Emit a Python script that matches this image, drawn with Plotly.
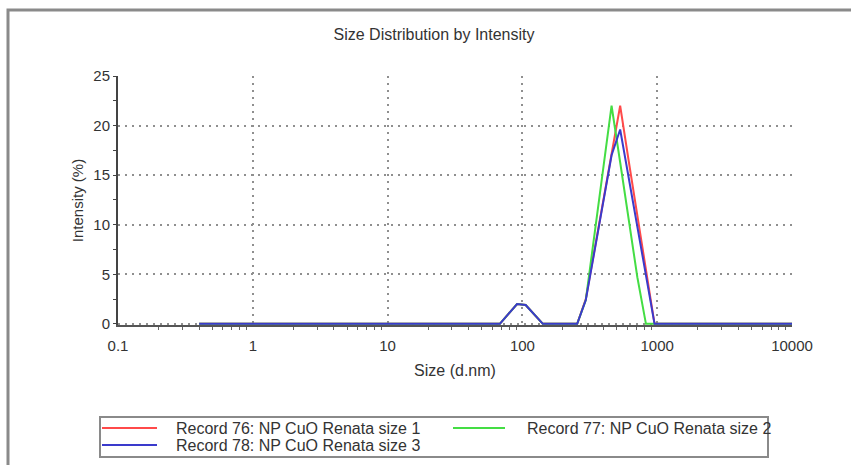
import plotly.graph_objects as go

# Malvern size classes (d.nm)
sizes = [0.4, 0.4632, 0.5365, 0.6213, 0.7195, 0.8332, 0.9649, 1.117, 1.294, 1.499,
         1.736, 2.010, 2.328, 2.696, 3.122, 3.615, 4.187, 4.849, 5.615, 6.503,
         7.531, 8.721, 10.10, 11.70, 13.54, 15.69, 18.17, 21.04, 24.36, 28.21,
         32.67, 37.84, 43.82, 50.75, 58.77, 68.06, 78.82, 91.28, 105.7, 122.4,
         141.8, 164.2, 190.1, 220.2, 255.0, 295.3, 342.0, 396.1, 458.7, 531.2,
         615.1, 712.4, 825.0, 955.4, 1106, 1281, 1484, 1718, 1990, 2305,
         2669, 3091, 3580, 4145, 4801, 5560, 6439, 7456, 8635, 10000]

rec76 = [0, 0, 0, 0, 0, 0, 0, 0, 0, 0,
         0, 0, 0, 0, 0, 0, 0, 0, 0, 0,
         0, 0, 0, 0, 0, 0, 0, 0, 0, 0,
         0, 0, 0, 0, 0, 0, 1.0, 2.0, 1.9, 0.9,
         0, 0, 0, 0, 0, 2.5, 7.3, 12.2, 17.1, 22.0,
         16.4, 10.8, 5.1, 0, 0, 0, 0, 0, 0, 0,
         0, 0, 0, 0, 0, 0, 0, 0, 0, 0]

rec77 = [0, 0, 0, 0, 0, 0, 0, 0, 0, 0,
         0, 0, 0, 0, 0, 0, 0, 0, 0, 0,
         0, 0, 0, 0, 0, 0, 0, 0, 0, 0,
         0, 0, 0, 0, 0, 0, 1.0, 2.0, 1.9, 0.9,
         0, 0, 0, 0, 0, 2.4, 8.8, 15.3, 22.0, 16.3,
         10.5, 4.7, 0, 0, 0, 0, 0, 0, 0, 0,
         0, 0, 0, 0, 0, 0, 0, 0, 0, 0]

rec78 = [0, 0, 0, 0, 0, 0, 0, 0, 0, 0,
         0, 0, 0, 0, 0, 0, 0, 0, 0, 0,
         0, 0, 0, 0, 0, 0, 0, 0, 0, 0,
         0, 0, 0, 0, 0, 0, 1.0, 2.0, 1.9, 0.9,
         0, 0, 0, 0, 0, 2.4, 7.2, 12.1, 17.0, 19.6,
         14.6, 9.6, 4.7, 0, 0, 0, 0, 0, 0, 0,
         0, 0, 0, 0, 0, 0, 0, 0, 0, 0]

series_names = ["Record 76: NP CuO Renata size 1",
                "Record 77: NP CuO Renata size 2",
                "Record 78: NP CuO Renata size 3"]
series_colors = ["#ff4a4a", "#44dd44", "#3a3acc"]

x_tickvals = [0.1, 1, 10, 100, 1000, 10000]
x_ticktext = ["0.1", "1", "10", "100", "1000", "10000"]
x_minor = [m * 10.0 ** e for e in range(-1, 4) for m in range(2, 10)]
y_tickvals = [0, 5, 10, 15, 20, 25]

FONT = "Liberation Sans, Arial, sans-serif"
W, H = 851, 465
L, R, T, B = 118, 59, 76, 140
PW, PH = W - L - R, H - T - B


def px(xp):
    return (xp - L) / PW


def py(yp):
    return (H - B - yp) / PH


fig = go.Figure()
for name, vals, col in zip(series_names, [rec76, rec77, rec78], series_colors):
    fig.add_trace(go.Scatter(x=sizes, y=vals, mode="lines", name=name,
                             line=dict(color=col, width=2), showlegend=False))

shapes = []
annotations = []
# outer frame
shapes.append(dict(type="rect", xref="paper", yref="paper",
                   x0=px(8), x1=px(960), y0=py(560), y1=py(10),
                   line=dict(color="#8a8a8a", width=3), layer="below"))
# legend box
shapes.append(dict(type="rect", xref="paper", yref="paper",
                   x0=px(100), x1=px(768), y0=py(457), y1=py(417),
                   line=dict(color="#8a8a8a", width=2)))
legend_items = [(102, 157, 428, 174), (453, 505, 428, 525), (102, 157, 445, 174)]
for (lx0, lx1, ly, tx), name, col in zip(legend_items, series_names, series_colors):
    shapes.append(dict(type="line", xref="paper", yref="paper",
                       x0=px(lx0), x1=px(lx1), y0=py(ly), y1=py(ly),
                       line=dict(color=col, width=2)))
    annotations.append(dict(text=name, xref="paper", yref="paper",
                            x=px(tx), y=py(ly), xanchor="left", yanchor="middle",
                            showarrow=False, font=dict(family=FONT, size=16, color="#333")))

fig.update_layout(
    width=W, height=H, autosize=False,
    margin=dict(l=L, r=R, t=T, b=B, autoexpand=False),
    paper_bgcolor="white", plot_bgcolor="white",
    title=dict(text="Size Distribution by Intensity", x=434 / W, xref="container",
               xanchor="center", y=1 - 34 / H, yref="container", yanchor="middle",
               font=dict(family=FONT, size=16, color="#333")),
    shapes=shapes, annotations=annotations,
    showlegend=False,
)

fig.update_xaxes(
    type="log", range=[-1, 4], automargin=False,
    tickmode="array", tickvals=x_tickvals, ticktext=x_ticktext,
    showline=True, linecolor="#555", linewidth=1.5,
    ticks="", ticklabelstandoff=6,
    showgrid=True, gridcolor="#8f8f8f", gridwidth=2, griddash="2px,5px",
    minor=dict(tickmode="array", tickvals=x_minor, ticks="outside", ticklen=3,
               tickcolor="#666", showgrid=False),
    tickfont=dict(family=FONT, size=15, color="#333"),
    title=dict(text="Size (d.nm)", font=dict(family=FONT, size=16, color="#333"), standoff=12),
    zeroline=False,
)
fig.update_yaxes(
    range=[-0.12, 25], automargin=False, tickmode="array", tickvals=y_tickvals,
    showline=True, linecolor="#444", linewidth=2,
    ticks="outside", ticklen=3, tickcolor="#444",
    minor=dict(dtick=2.5, ticks="outside", ticklen=3, tickcolor="#444", showgrid=False),
    showgrid=True, gridcolor="#8f8f8f", gridwidth=2, griddash="2px,5px",
    tickfont=dict(family=FONT, size=15, color="#333"),
    title=dict(text="Intensity (%)", font=dict(family=FONT, size=15, color="#333"), standoff=6),
    zeroline=False,
)

fig.write_html("out.html", config={"displayModeBar": False},
               post_script="document.body.style.margin='0';document.body.style.overflow='hidden';")
